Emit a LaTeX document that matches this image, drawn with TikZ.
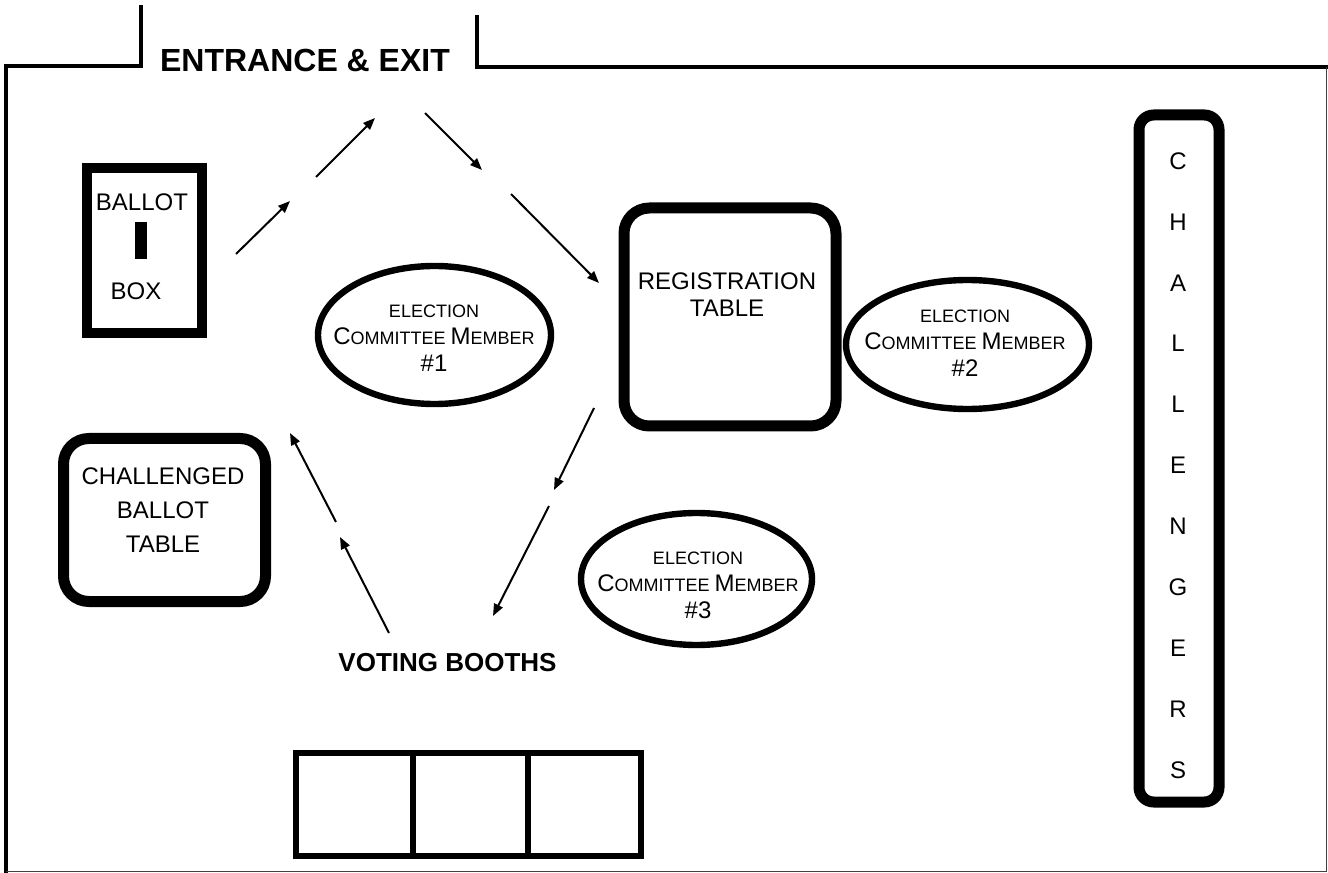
\documentclass[tikz,border=0pt]{standalone}
\usepackage{fontspec}
\setmainfont{Liberation Sans}
\usetikzlibrary{arrows.meta,shapes.geometric}

\newcommand{\capbig}[1]{{\fontsize{18}{20.25}\selectfont #1}}

\begin{document}
\begin{tikzpicture}[x=0.75pt, y=-0.75pt,
   wall/.style={line width=3.2pt},
   table/.style={draw, line width=8.25pt, rounded corners=19pt, inner sep=0pt},
   booth/.style={draw, line width=4.5pt, inner sep=0pt, minimum height=77.25pt},
   member/.style={draw, ellipse, line width=4.8pt, inner sep=0pt},
   flow/.style={line width=1.5pt, -{Triangle[length=9pt, width=7pt]}},
   txt/.style={font=\fontsize{18}{20.25}\selectfont, align=center, inner sep=0pt},
   smc/.style={font=\fontsize{13.5}{20.25}\selectfont, align=center, inner sep=0pt},
   head/.style={font=\fontsize{24}{28}\selectfont\bfseries, inner sep=0pt}]

   \useasboundingbox (0,0) rectangle (1328,873);

   % walls of the room
   \draw[wall] (6,873) -- (6,66) -- (141,66) -- (141,5);
   \draw[wall] (477,15) -- (477,67) -- (1328,67);
   \draw[line width=1.1pt, black!75] (1326.5,67) -- (1326.5,871.5) -- (6,871.5);
   \node[head] (door) at (305,60) {ENTRANCE \& EXIT};

   % ballot box
   \node[draw, line width=7.5pt, inner sep=0pt, minimum width=86.25pt,
         minimum height=123.75pt] (box) at (144.5,250.5) {};
   \node[txt] (boxtop) at (142,202) {BALLOT};
   \node[fill, inner sep=0pt, minimum width=9pt, minimum height=27.75pt] (slot) at (141,240.5) {};
   \node[txt] (boxbot) at (136,291) {BOX};

   % tables
   \node[table, minimum width=159pt, minimum height=163.5pt] (reg) at (730,317) {};
   \node[txt] (regtext) at (727,295) {REGISTRATION\\TABLE};
   \node[table, minimum width=151.5pt, minimum height=122.25pt] (cbt) at (164.5,520) {};
   \node[txt, font=\fontsize{18}{25.5}\selectfont] (cbttext) at (163,510) {CHALLENGED\\BALLOT\\TABLE};
   \node[table, rounded corners=11pt, minimum width=60pt, minimum height=515.25pt] (chal) at (1179,458.5) {};
   \foreach \c [count=\i from 0] in {C,H,A,L,L,E,N,G,E,R,S}
      \node[txt] (ch\i) at (1178,161+60.9*\i) {\c};

   % committee members
   \node[member, minimum width=174.75pt, minimum height=103.5pt] (m1) at (434.5,335) {};
   \node[smc] (m1text) at (434,338) {ELECTION\\\capbig{C}OMMITTEE \capbig{M}EMBER\\\capbig{\#1}};
   \node[member, minimum width=182.25pt, minimum height=96.75pt] (m2) at (967.5,344.5) {};
   \node[smc] (m2text) at (965,343) {ELECTION\\\capbig{C}OMMITTEE \capbig{M}EMBER\\\capbig{\#2}};
   \node[member, minimum width=173.25pt, minimum height=99pt] (m3) at (696.5,579) {};
   \node[smc] (m3text) at (698,585) {ELECTION\\\capbig{C}OMMITTEE \capbig{M}EMBER\\\capbig{\#3}};

   % voting booths
   \node[head, font=\fontsize{19.5}{22}\selectfont\bfseries] (vote) at (447.5,662.5) {VOTING BOOTHS};
   \node[booth, minimum width=87.4pt] (b1) at (354.25,804.5) {};
   \node[booth, minimum width=86.25pt] (b2) at (470,804.5) {};
   \node[booth, minimum width=85.1pt] (b3) at (584.25,804.5) {};

   % path of the voter
   \coordinate (f1s) at (236,254); \coordinate (f1e) at (290,201);
   \coordinate (f2s) at (316,177); \coordinate (f2e) at (375,118);
   \coordinate (f3s) at (425,113); \coordinate (f3e) at (482,170);
   \coordinate (f4s) at (511,194); \coordinate (f4e) at (599,283);
   \coordinate (f5s) at (594,408); \coordinate (f5e) at (554,490);
   \coordinate (f6s) at (549,506); \coordinate (f6e) at (493,616);
   \coordinate (f7s) at (389,633); \coordinate (f7e) at (340,537);
   \coordinate (f8s) at (336,522); \coordinate (f8e) at (290,433);
   \foreach \i in {1,...,8}
      \draw[flow] (f\i s) -- (f\i e);
\end{tikzpicture}
\end{document}
